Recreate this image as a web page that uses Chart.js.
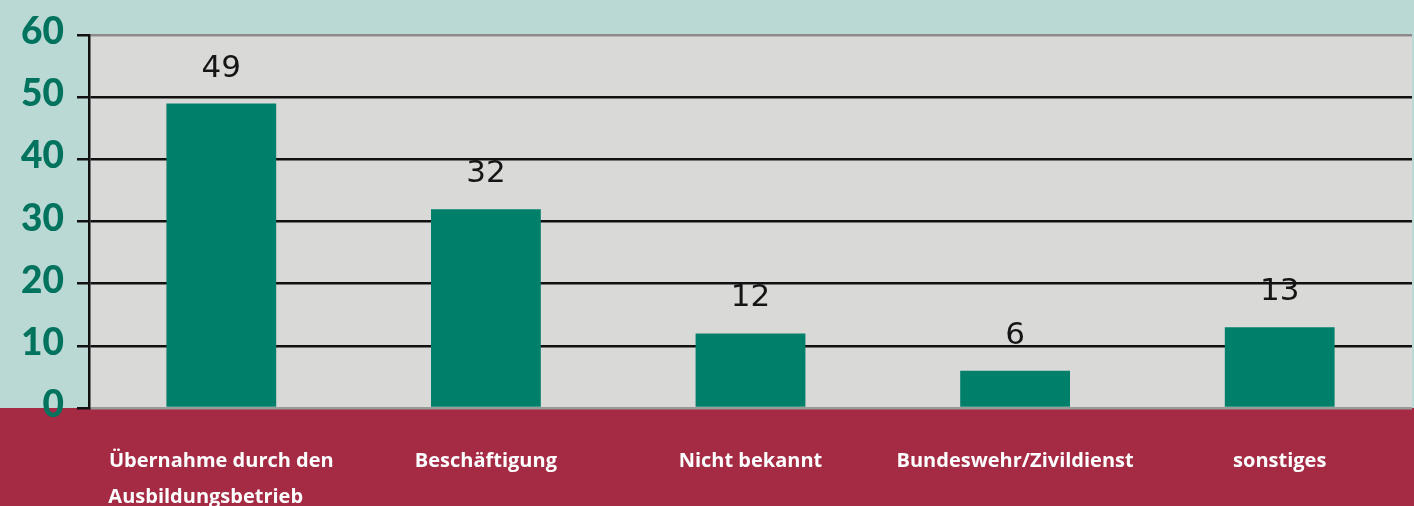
<!DOCTYPE html>
<html>
<head>
<meta charset="utf-8">
<script src="https://cdn.jsdelivr.net/npm/chart.js@4/dist/chart.umd.min.js"></script>
<style>
  html, body { margin: 0; padding: 0; background: #bad9d5; }
  #wrap { width: 1414px; height: 506px; position: relative; }
</style>
</head>
<body>
<div id="wrap"><canvas id="bars" width="1414" height="506"></canvas></div>
<script>
// categories + values
// (trailing spaces on line 2 push it left so both lines start together)
var categories = [
  ["Übernahme durch den", "Ausbildungsbetrieb      "],
  "Beschäftigung",
  "Nicht bekannt",
  "Bundeswehr/Zivildienst",
  "sonstiges"
];
var values = [49, 32, 12, 6, 13];
var yTicks = [0, 10, 20, 30, 40, 50, 60];

var TEAL = "#bad9d5";
var PLOT_BG = "#d9d9d8";
var BAND = "#a52a43";
var BAR = "#00806a";

// backgrounds: gray plot area + red band under the axis
var bgPlugin = {
  id: "bg",
  beforeDraw: function(chart) {
    var c = chart.ctx, a = chart.chartArea;
    c.save();
    c.fillStyle = TEAL;
    c.fillRect(0, 0, chart.width, chart.height);
    c.fillStyle = PLOT_BG;
    c.fillRect(a.left, a.top, a.right - a.left, a.bottom - a.top);
    c.fillStyle = BAND;
    c.fillRect(0, a.bottom, chart.width, chart.height - a.bottom);
    c.restore();
  }
};

// value numbers above bars
var valuePlugin = {
  id: "vals",
  afterDatasetsDraw: function(chart) {
    var c = chart.ctx;
    var meta = chart.getDatasetMeta(0);
    c.save();
    c.fillStyle = "#151515";
    c.font = "31px 'DejaVu Sans'";
    c.textAlign = "center";
    c.textBaseline = "alphabetic";
    meta.data.forEach(function(el, i) {
      c.fillText(String(values[i]), el.x, el.y - 27);
    });
    c.restore();
  }
};

new Chart(document.getElementById("bars").getContext("2d"), {
  type: "bar",
  data: {
    labels: categories,
    datasets: [{
      data: values,
      backgroundColor: BAR,
      borderWidth: 0,
      barPercentage: 0.415,
      categoryPercentage: 1
    }]
  },
  options: {
    responsive: false,
    animation: false,
    layout: { padding: { top: 33, right: 2, left: 0, bottom: 0 } },
    plugins: { legend: { display: false }, tooltip: { enabled: false } },
    scales: {
      x: {
        grid: { display: false, drawTicks: false },
        border: { display: false },
        ticks: {
          color: "#ffffff",
          font: { family: "'Open Sans'", size: 20, weight: "bold", lineHeight: 1.8 },
          padding: 35,
          maxRotation: 0,
          autoSkip: false
        },
        afterFit: function(s) { s.height = 98; }
      },
      y: {
        min: 0,
        max: 60,
        afterBuildTicks: function(s) { s.ticks = yTicks.map(function(v) { return { value: v }; }); },
        grid: {
          color: function(ctx) {
            if (ctx.tick && ctx.tick.value === 60) return "#8d8a8c";
            if (ctx.tick && ctx.tick.value === 0) return "#9a9a98";
            return "#111111";
          },
          lineWidth: 2.5,
          tickLength: 12,
          tickColor: "#111111",
          drawTicks: true
        },
        border: { display: true, color: "#111111", width: 2.5 },
        ticks: {
          color: "#00735f",
          font: { family: "Lato", size: 37, weight: "900" },
          padding: 13,
          labelOffset: -3
        },
        afterFit: function(s) { s.width = 89; }
      }
    }
  },
  plugins: [bgPlugin, valuePlugin]
});
</script>
</body>
</html>
